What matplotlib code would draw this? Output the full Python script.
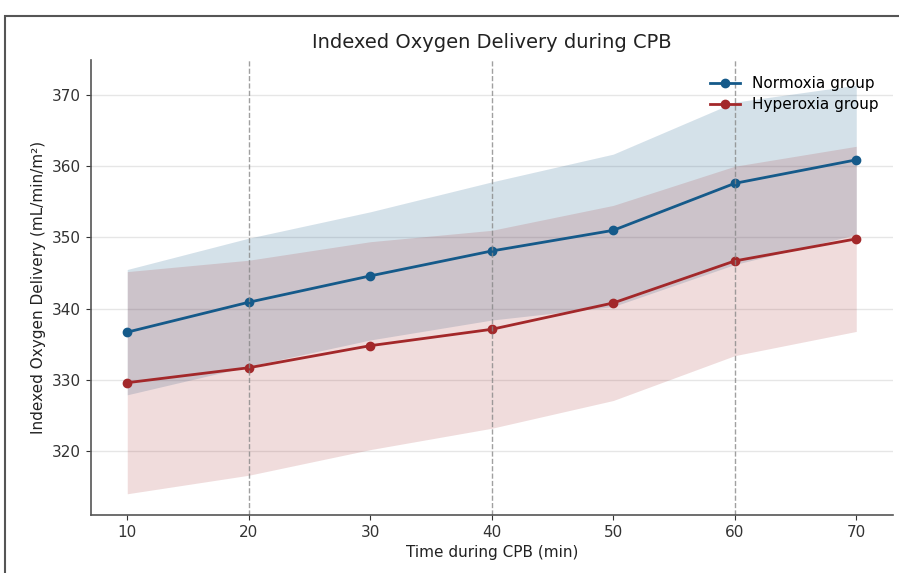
import matplotlib
matplotlib.use("Agg")
import matplotlib.pyplot as plt
from matplotlib.patches import Rectangle
import numpy as np

# Tiempo durante CPB (min)
time_min = [10, 20, 30, 40, 50, 60, 70]

# Normoxia: media y desviación
normoxia_mean = [336.7, 340.9, 344.6, 348.1, 351.0, 357.6, 360.9]
normoxia_sd = [8.8, 9.0, 9.0, 9.7, 10.7, 11.4, 10.5]

# Hyperoxia: media y desviación
hyperoxia_mean = [329.6, 331.7, 334.8, 337.1, 340.8, 346.7, 349.8]
hyperoxia_sd = [15.6, 15.1, 14.6, 13.9, 13.7, 13.3, 13.0]

marked_times = [20, 40, 60]

blue = "#155a8a"
red = "#a3282a"

fig = plt.figure(figsize=(8.99, 5.73), dpi=100)
ax = fig.add_axes([0.101, 0.101, 0.892, 0.794])

# marco gris alrededor (captura de pantalla)
fig.patches.append(Rectangle((5 / 899, -0.1), 1.2, 1 - 16 / 573 + 0.1,
                             transform=fig.transFigure, fill=False,
                             edgecolor="#555555", linewidth=1.5))

x = np.array(time_min)
nm = np.array(normoxia_mean)
ns = np.array(normoxia_sd)
hm = np.array(hyperoxia_mean)
hs = np.array(hyperoxia_sd)

ax.fill_between(x, nm - ns, nm + ns, color=blue, alpha=0.18, linewidth=0)
ax.fill_between(x, hm - hs, hm + hs, color=red, alpha=0.16, linewidth=0)

ax.plot(x, nm, "-o", color=blue, lw=2, markersize=6, label="Normoxia group")
ax.plot(x, hm, "-o", color=red, lw=2, markersize=6, label="Hyperoxia group")

for t in marked_times:
    ax.axvline(t, color="#888888", linestyle="--", linewidth=1, alpha=0.8)

ax.grid(axis="y", color="#e6e6e6", linewidth=1)
ax.set_axisbelow(True)

ax.set_xlim(7, 73)
ax.set_ylim(311.0, 374.9)

ax.set_title("Indexed Oxygen Delivery during CPB", fontsize=14, color="#222222", pad=9)
ax.set_xlabel("Time during CPB (min)", fontsize=11, color="#222222")
ax.set_ylabel("Indexed Oxygen Delivery (mL/min/m²)", fontsize=11, color="#222222")
ax.set_xticks(time_min)
ax.tick_params(labelsize=11, colors="#333333")

ax.spines["top"].set_visible(False)
ax.spines["right"].set_visible(False)
for s in ("left", "bottom"):
    ax.spines[s].set_color("#555555")
    ax.spines[s].set_linewidth(1.2)

ax.legend(loc="upper right", frameon=False, fontsize=11,
          bbox_to_anchor=(1.0, 0.995), handlelength=2.0, labelspacing=0.4)

fig.savefig("out.png", dpi=100)
